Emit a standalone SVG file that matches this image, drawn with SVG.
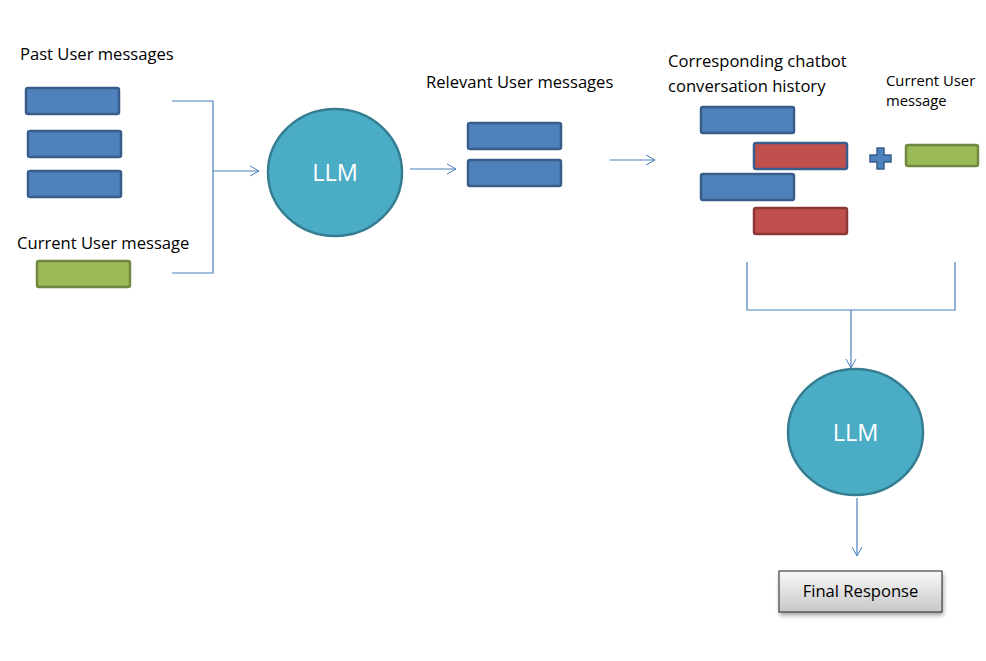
<svg xmlns="http://www.w3.org/2000/svg" width="986" height="661" viewBox="0 0 986 661">
<defs>
<marker id="arr" markerWidth="12" markerHeight="12" refX="10" refY="6" orient="auto" markerUnits="userSpaceOnUse">
<path d="M1,1 L10,6 L1,11" fill="none" stroke="#4a7ebb" stroke-width="1"/>
</marker>
<linearGradient id="gray" x1="0" y1="0" x2="0" y2="1">
<stop offset="0" stop-color="#f8f8f8"/>
<stop offset="1" stop-color="#c8c8c8"/>
</linearGradient>
<filter id="sh" x="-10%" y="-10%" width="130%" height="140%">
<feDropShadow dx="1" dy="3" stdDeviation="2" flood-color="#000" flood-opacity="0.35"/>
</filter>
</defs>
<style>
.lbl{font-family:"Open Sans","Liberation Sans",sans-serif;font-size:16.6px;fill:#000}
.sm{font-family:"Open Sans","Liberation Sans",sans-serif;font-size:14.8px;fill:#000}
.blue{fill:#4f81bd;stroke:#385d8a;stroke-width:2.5}
.red{fill:#c0504d;stroke:#385d8a;stroke-width:2.5}
.red2{fill:#c0504d;stroke:#8c3836;stroke-width:2.5}
.green{fill:#9bbb59;stroke:#71893f;stroke-width:2.5}
.llm{fill:#4bacc6;stroke:#357d91;stroke-width:2.5}
.llmt{font-family:"Open Sans","Liberation Sans",sans-serif;font-size:23.5px;fill:#fff;text-anchor:middle}
.con{fill:none;stroke:#4a7ebb;stroke-width:1.2}
</style>
<rect width="986" height="661" fill="#fff"/>
<g id="past">
<text class="lbl" x="20" y="60">Past User messages</text>
<rect class="blue" x="26" y="88" width="93" height="26" rx="2"/>
<rect class="blue" x="28" y="131" width="93" height="26" rx="2"/>
<rect class="blue" x="28" y="171" width="93" height="26" rx="2"/>
</g>
<g id="current">
<text class="lbl" x="17" y="249">Current User message</text>
<rect class="green" x="37" y="261" width="93" height="26" rx="2"/>
</g>
<g id="llm1">
<ellipse class="llm" cx="335" cy="172.5" rx="67" ry="63.5"/>
<text class="llmt" x="335" y="181">LLM</text>
</g>
<g id="relevant">
<text class="lbl" x="426" y="88">Relevant User messages</text>
<rect class="blue" x="468" y="123" width="93" height="26" rx="2"/>
<rect class="blue" x="468" y="160" width="93" height="26" rx="2"/>
</g>
<g id="history">
<text class="lbl" x="668" y="67">Corresponding chatbot</text>
<text class="lbl" x="668" y="92">conversation history</text>
<rect class="blue" x="701" y="107" width="93" height="26" rx="2"/>
<rect class="red" x="754" y="143" width="93" height="26" rx="2"/>
<rect class="blue" x="701" y="174" width="93" height="26" rx="2"/>
<rect class="red2" x="754" y="208" width="93" height="26" rx="2"/>
</g>
<g id="plus">
<path d="M877,148 h7 v7 h7 v7 h-7 v7 h-7 v-7 h-7 v-7 h7 z" fill="#4f81bd" stroke="#385d8a" stroke-width="1.5"/>
</g>
<g id="current2">
<text class="sm" x="886" y="86">Current User</text>
<text class="sm" x="886" y="106">message</text>
<rect class="green" x="906" y="145" width="72" height="21" rx="2"/>
</g>
<g id="llm2">
<ellipse class="llm" cx="855.5" cy="432" rx="67.5" ry="63"/>
<text class="llmt" x="855.5" y="441">LLM</text>
</g>
<g id="final">
<rect x="779" y="571" width="163" height="41" fill="url(#gray)" stroke="#222" stroke-width="1" filter="url(#sh)"/>
<text class="lbl" x="860.5" y="597" text-anchor="middle">Final Response</text>
</g>
<g id="connectors">
<path class="con" d="M172,101 H213 V273 H172"/>
<path class="con" d="M213,171 H259" marker-end="url(#arr)"/>
<path class="con" d="M410,169 H456" marker-end="url(#arr)"/>
<path class="con" d="M610,160 H655" marker-end="url(#arr)"/>
<path class="con" d="M747,262 V310 H955 V262"/>
<path class="con" d="M851,310 V368" marker-end="url(#arr)"/>
<path class="con" d="M857,498 V556" marker-end="url(#arr)"/>
</g>
</svg>
